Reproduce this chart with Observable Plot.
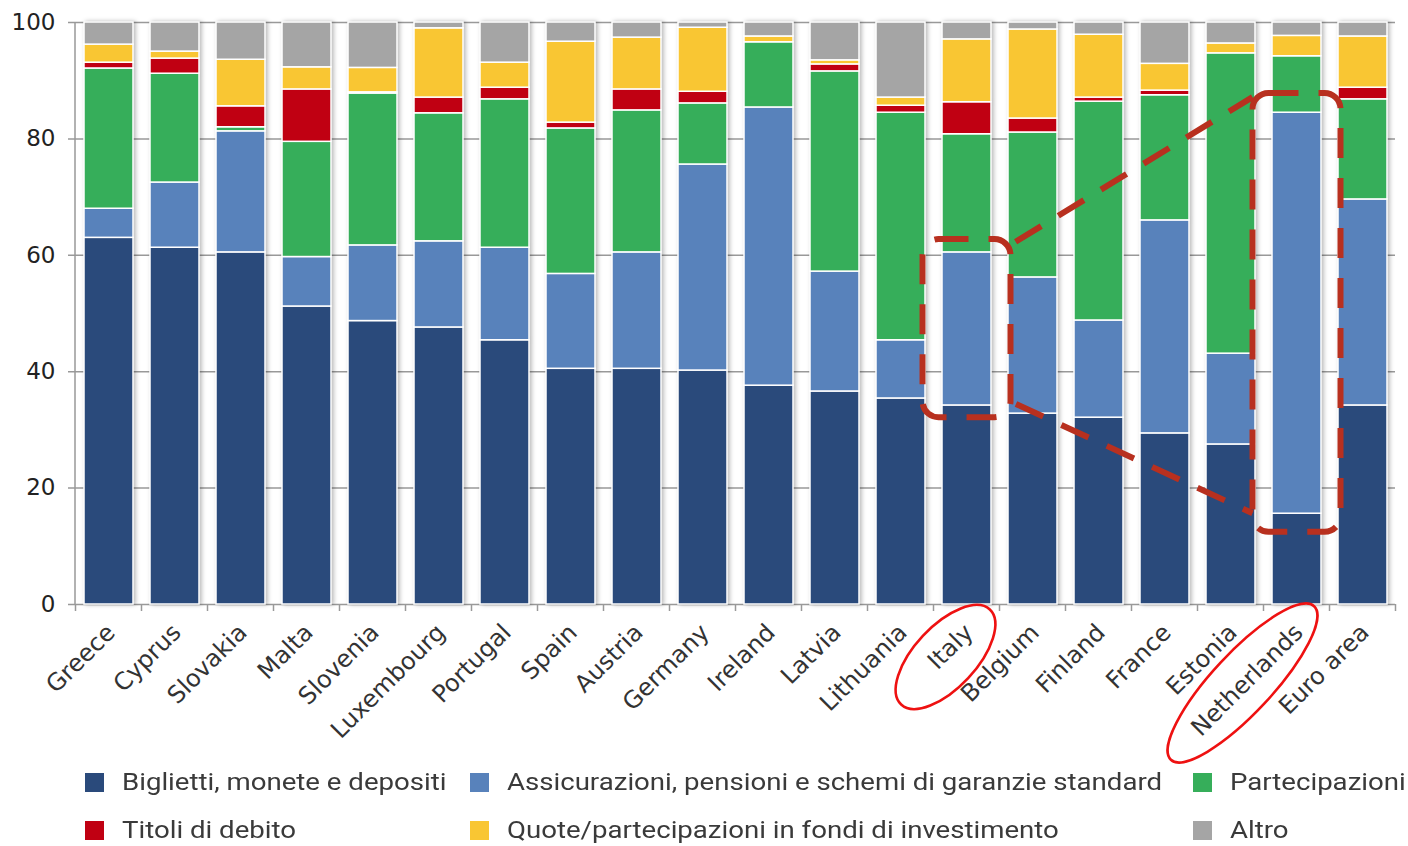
<!DOCTYPE html>
<html>
<head>
<meta charset="utf-8">
<script src="https://cdn.jsdelivr.net/npm/d3@7"></script>
<script src="https://cdn.jsdelivr.net/npm/@observablehq/plot@0.6"></script>
<style>
  html, body { margin: 0; padding: 0; background: #fff; }
  #wrap { position: relative; width: 1408px; height: 846px; overflow: hidden; }
  #legend { position: absolute; left: 0; top: 0; width: 1408px; height: 846px; pointer-events: none;
            font-family: Roboto, "Noto Sans", sans-serif; font-size: 24px; color: #3a3a3a; }
  .item { position: absolute; display: flex; align-items: center; white-space: nowrap; transform: translateY(-50%); }
  .sw { width: 19px; height: 19px; margin-right: 18px; flex: none; }
  .tx { display: inline-block; transform: scaleX(1.15); transform-origin: 0 50%; }
</style>
</head>
<body>
<div id="wrap"><div id="chart"></div><div id="legend"></div></div>
<script>
// ---- data ----
const countries = ["Greece", "Cyprus", "Slovakia", "Malta", "Slovenia", "Luxembourg", "Portugal", "Spain",
  "Austria", "Germany", "Ireland", "Latvia", "Lithuania", "Italy", "Belgium", "Finland", "France",
  "Estonia", "Netherlands", "Euro area"];

const series = ["Biglietti, monete e depositi",
  "Assicurazioni, pensioni e schemi di garanzie standard",
  "Partecipazioni",
  "Titoli di debito",
  "Quote/partecipazioni in fondi di investimento",
  "Altro"];

const colors = ["#2a4a7b", "#5882bb", "#36ae5a", "#c00012", "#f9c633", "#a5a5a5"];

const deposits  = [63.0, 61.3, 60.5, 51.2, 48.7, 47.6, 45.4, 40.5, 40.5, 40.2, 37.6, 36.6, 35.4, 34.2, 32.8, 32.1, 29.4, 27.5, 15.6, 34.2];
const insurance = [5.0, 11.2, 20.8, 8.5, 13.0, 14.8, 15.9, 16.3, 20.0, 35.4, 47.8, 20.6, 10.0, 26.3, 23.4, 16.7, 36.6, 15.6, 68.9, 35.4];
const equity    = [24.1, 18.7, 0.7, 19.8, 26.1, 22.0, 25.5, 25.0, 24.4, 10.5, 11.2, 34.4, 39.1, 20.3, 24.9, 37.6, 21.5, 51.6, 9.7, 17.2];
const debt      = [1.0, 2.6, 3.6, 9.0, 0.2, 2.7, 2.0, 1.0, 3.6, 2.0, 0.0, 1.2, 1.2, 5.5, 2.4, 0.7, 0.8, 0.0, 0.0, 2.0];
const funds     = [3.1, 1.2, 8.0, 3.8, 4.2, 11.9, 4.3, 13.9, 8.9, 11.0, 1.0, 0.7, 1.4, 10.8, 15.3, 10.8, 4.6, 1.7, 3.5, 8.8];
const other     = [3.8, 5.0, 6.4, 7.7, 7.8, 1.0, 6.9, 3.3, 2.6, 0.9, 2.4, 6.5, 12.9, 2.9, 1.2, 2.1, 7.1, 3.6, 2.3, 2.4];

const yTicks = [0, 20, 40, 60, 80, 100];

// annotation: highlighted bars (value ranges of the dashed boxes)
const highlightCountries = ["Italy", "Netherlands"];
const highlightLow  = [32.1, 12.4];
const highlightHigh = [62.7, 87.8];
// connecting dashed lines: [from value at Italy box edge, to value at Netherlands box edge]
const linkFrom = [61.7, 34.8];
const linkTo   = [87.1, 15.6];

// ---- build table ----
const seriesValues = [deposits, insurance, equity, debt, funds, other];
const data = countries.flatMap((c, i) => series.map((s, j) => ({country: c, series: s, value: seriesValues[j][i]})));
const boxes = highlightCountries.map((c, i) => ({country: c, lo: highlightLow[i], hi: highlightHigh[i]}));

const annRed = "#b8301f";

function decorations(index, scales, values, dim) {
  const x = scales.x, y = scales.y;
  const bw = x.bandwidth ? x.bandwidth() : 48.8;
  const step = x.step ? x.step() : (x(countries[1]) - x(countries[0]));
  const cx = c => x(c) + bw / 2;
  const g = d3.create("svg:g");
  // left axis line
  g.append("line").attr("x1", dim.marginLeft).attr("x2", dim.marginLeft)
    .attr("y1", y(100)).attr("y2", y(0)).attr("stroke", "#999").attr("stroke-width", 1.5);
  // x boundary ticks
  const bounds = countries.map(c => cx(c) - step / 2).concat([cx(countries[countries.length - 1]) + step / 2]);
  g.selectAll("line.tk").data(bounds).join("line").attr("class", "tk")
    .attr("x1", d => d).attr("x2", d => d).attr("y1", y(0)).attr("y2", y(0) + 7)
    .attr("stroke", "#999").attr("stroke-width", 1.5);
  // dashed connecting lines
  const pad = 19.5;
  const xa = cx("Italy") + bw / 2 + pad;
  const xb = cx("Netherlands") - bw / 2 - pad;
  [0, 1].forEach(i => {
    g.append("line").attr("x1", xa).attr("y1", y(linkFrom[i])).attr("x2", xb).attr("y2", y(linkTo[i]))
      .attr("stroke", annRed).attr("stroke-width", 6).attr("stroke-dasharray", "30 20")
      .attr("stroke-dashoffset", -6);
  });
  // red ellipses around labels
  const ell = [
    {c: "Italy", dx: -21, dy: 53, rx: 65, ry: 31},
    {c: "Netherlands", dx: -54, dy: 79, rx: 105, ry: 30}
  ];
  ell.forEach(e => {
    const ex = cx(e.c) + e.dx, ey = y(0) + e.dy;
    g.append("ellipse").attr("cx", 0).attr("cy", 0).attr("rx", e.rx).attr("ry", e.ry)
      .attr("transform", `translate(${ex},${ey}) rotate(-47)`)
      .attr("fill", "none").attr("stroke", "#ee1111").attr("stroke-width", 2.6);
  });
  return g.node();
}

const chart = Plot.plot({
  width: 1408,
  height: 760,
  marginLeft: 75,
  marginRight: 13,
  marginTop: 22,
  marginBottom: 156,
  style: {fontFamily: "DejaVu Sans, Verdana, sans-serif", fontSize: "21px", color: "#222", background: "white", overflow: "visible"},
  x: {domain: countries, paddingInner: 0.26, paddingOuter: 0.13, label: null},
  y: {domain: [0, 100], label: null},
  color: {domain: series, range: colors},
  marks: [
    Plot.ruleY(yTicks, {stroke: "#999", strokeWidth: 1.5, insetLeft: -7}),
    Plot.barY(data, {x: "country", y: "value", fill: "series", stroke: "white", strokeWidth: 1.5, order: series}),
    Plot.barY(boxes, {x: "country", y1: "lo", y2: "hi", fill: "none", stroke: annRed, strokeWidth: 6,
      strokeDasharray: "30 20", insetLeft: -19.5, insetRight: -19.5, rx: 16}),
    Plot.axisY({ticks: yTicks, tickSize: 0, tickPadding: 20, fontSize: 23, fill: "#222"}),
    Plot.axisX({tickSize: 0, tickPadding: 24, tickRotate: -45, fontSize: 24, fill: "#333", dx: 2}),
    decorations
  ]
});

// subtle shadow on bars
d3.select(chart).selectAll('g[aria-label="bar"]').filter((d, i) => i === 0)
  .style("filter", "drop-shadow(2px 0px 2px rgba(0,0,0,0.28))");

document.getElementById("chart").appendChild(chart);

// ---- legend ----
const legendPos = [
  {x: 85, y: 782}, {x: 470, y: 782}, {x: 1193, y: 782},
  {x: 85, y: 830}, {x: 470, y: 830}, {x: 1193, y: 830}
];
const legend = document.getElementById("legend");
series.forEach((s, i) => {
  const it = document.createElement("div");
  it.className = "item";
  it.style.left = legendPos[i].x + "px";
  it.style.top = legendPos[i].y + "px";
  const sw = document.createElement("span");
  sw.className = "sw";
  sw.style.background = colors[i];
  const tx = document.createElement("span");
  tx.className = "tx";
  tx.textContent = s;
  it.appendChild(sw); it.appendChild(tx);
  legend.appendChild(it);
});
</script>
</body>
</html>
